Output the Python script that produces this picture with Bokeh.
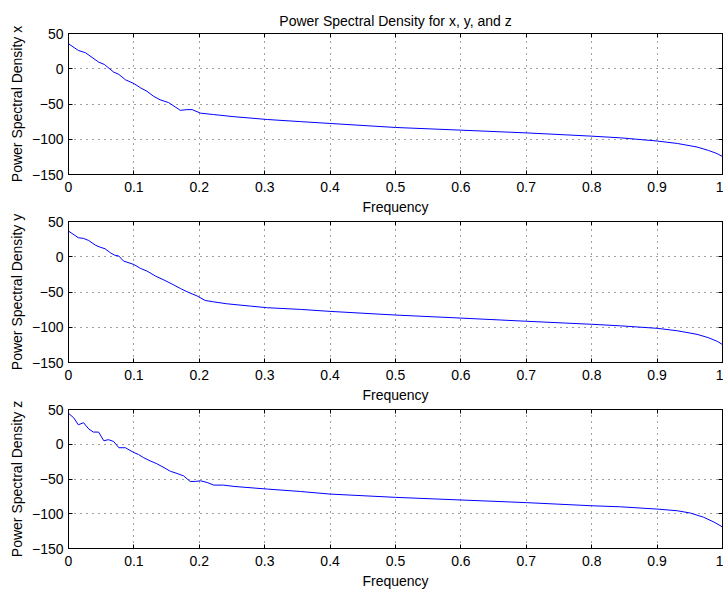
from bokeh.plotting import figure
from bokeh.models import Range1d, FixedTicker, LinearAxis
from bokeh.layouts import column
from bokeh.embed import file_html
from bokeh.resources import INLINE

# ---- data ----
freq_x = [0, 0.015, 0.026, 0.046, 0.055, 0.069, 0.077, 0.087, 0.1, 0.11, 0.12, 0.13,
          0.14, 0.153, 0.163, 0.171, 0.181, 0.189, 0.202, 0.222, 0.253, 0.304, 0.355,
          0.4, 0.5, 0.6, 0.7, 0.8, 0.844, 0.9, 0.931, 0.961, 0.979, 0.992, 1.0]
psd_x = [35.5, 26, 22.7, 9.5, 6, -4.7, -8, -15.6, -21, -27, -32, -39,
         -44, -48, -54, -59, -58, -58, -63, -65, -68, -72, -75,
         -77.6, -83.3, -87.1, -91, -95.6, -98, -102.5, -106, -111, -116, -120.5, -124.5]

freq_y = [0, 0.015, 0.023, 0.031, 0.041, 0.048, 0.056, 0.064, 0.07, 0.077, 0.084, 0.1,
          0.11, 0.12, 0.133, 0.146, 0.161, 0.171, 0.181, 0.197, 0.209, 0.222, 0.242,
          0.278, 0.304, 0.355, 0.4, 0.5, 0.6, 0.7, 0.8, 0.844, 0.9, 0.931, 0.961, 0.979,
          0.992, 1.0]
psd_y = [36.4, 27, 26, 23, 16.5, 13.7, 11.3, 5.7, 2.4, 1, -6, -11,
         -16.5, -20.3, -27.4, -33, -40, -45, -49.5, -55.8, -62, -64, -66.7,
         -70, -72.3, -74.7, -77.5, -82.7, -87, -91.5, -95.8, -98, -101.5, -105, -110, -115,
         -120, -124.5]

freq_z = [0, 0.008, 0.015, 0.023, 0.031, 0.038, 0.046, 0.054, 0.061, 0.069, 0.077, 0.087,
          0.1, 0.107, 0.115, 0.125, 0.135, 0.146, 0.156, 0.166, 0.176, 0.186, 0.194,
          0.202, 0.212, 0.222, 0.237, 0.253, 0.304, 0.355, 0.4, 0.5, 0.6, 0.7, 0.8,
          0.844, 0.9, 0.931, 0.951, 0.971, 0.987, 1.0]
psd_z = [44.5, 38, 28, 31, 22, 17.5, 17.5, 5, 6.6, 4, -5, -5,
         -12, -14.7, -19.4, -24, -28, -33.6, -39, -42, -45.5, -53.5, -53.5,
         -52.6, -55, -58.8, -58.8, -60.7, -64.5, -68, -71.7, -76.4, -80.2, -84, -88.5,
         -90, -93.3, -95.7, -99, -105, -112, -119]

x_ticks = [0, 0.1, 0.2, 0.3, 0.4, 0.5, 0.6, 0.7, 0.8, 0.9, 1]
x_labels = ["0", "0.1", "0.2", "0.3", "0.4", "0.5", "0.6", "0.7", "0.8", "0.9", "1"]
y_ticks = [50, 0, -50, -100, -150]
y_labels = ["50", "0", "\u2212" + "50", "\u2212" + "100", "\u2212" + "150"]

title_text = "Power Spectral Density for x, y, and z"
x_label = "Frequency"
y_label_names = ["Power Spectral Density x", "Power Spectral Density y", "Power Spectral Density z"]

FONT = "Liberation Sans"
FS = "14px"


def make_panel(fx, fv, ylab, height, top, bottom, title=None, overlap=0):
    p = figure(width=723, height=height, output_backend="svg", toolbar_location=None,
               x_range=Range1d(0, 1), y_range=Range1d(-150, 50),
               min_border_left=68, min_border_right=1, min_border_top=top,
               min_border_bottom=bottom, background_fill_color="white",
               border_fill_color="white", border_fill_alpha=0.0,
               outline_line_color="black", outline_line_width=1, title=title)
    if overlap:
        p.margin = (-overlap, 0, 0, 0)
    p.line(fx, fv, line_color="#0000ff", line_width=1)

    xo = dict(zip(x_ticks, x_labels))
    yo = dict(zip(y_ticks, y_labels))
    for ax in p.xaxis:
        ax.ticker = FixedTicker(ticks=x_ticks)
        ax.major_label_overrides = xo
        ax.axis_label = x_label
    for ax in p.yaxis:
        ax.ticker = FixedTicker(ticks=y_ticks)
        ax.major_label_overrides = yo
        ax.axis_label = ylab
    for ax in list(p.xaxis) + list(p.yaxis):
        ax.major_tick_in = 4
        ax.major_tick_out = 0
        ax.minor_tick_line_color = None
        ax.axis_line_color = "black"
        ax.major_tick_line_color = "black"
        ax.major_label_text_font = FONT
        ax.major_label_text_font_size = FS
        ax.major_label_text_color = "black"
        ax.axis_label_text_font = FONT
        ax.axis_label_text_font_size = FS
        ax.axis_label_text_font_style = "normal"
        ax.axis_label_text_color = "black"
        ax.axis_label_standoff = 4
    for ax in p.xaxis:
        ax.major_label_standoff = 7
    for ax in p.yaxis:
        ax.major_label_standoff = 5

    # mirrored ticks on top and right (box style)
    top_ax = LinearAxis(ticker=FixedTicker(ticks=x_ticks), major_tick_in=4, major_tick_out=0,
                        minor_tick_line_color=None, major_label_standoff=0,
                        major_label_overrides={t: "" for t in x_ticks},
                        axis_line_color="black")
    right_ax = LinearAxis(ticker=FixedTicker(ticks=y_ticks), major_tick_in=4, major_tick_out=0,
                          minor_tick_line_color=None, major_label_standoff=0,
                          major_label_overrides={t: "" for t in y_ticks},
                          axis_line_color="black")
    p.add_layout(top_ax, "above")
    p.add_layout(right_ax, "right")

    p.xgrid.ticker = FixedTicker(ticks=x_ticks)
    p.ygrid.ticker = FixedTicker(ticks=y_ticks)
    for g in (p.xgrid, p.ygrid):
        g.grid_line_color = "black"
        g.grid_line_alpha = 0.75
        g.grid_line_dash = "1 5"
        g.grid_line_width = 1

    if title is not None:
        p.title.text_font = FONT
        p.title.text_font_size = FS
        p.title.text_font_style = "normal"
        p.title.text_color = "black"
        p.title.align = "center"
    return p


OV = 25
p1 = make_panel(freq_x, psd_x, y_label_names[0], 221, 33, 47, title=title_text)
p2 = make_panel(freq_y, psd_y, y_label_names[1], OV + 141 + 47, OV, 47, overlap=OV)
p3 = make_panel(freq_z, psd_z, y_label_names[2], OV + 141 + 41, OV, 41, overlap=OV)

layout = column(p1, p2, p3, spacing=0)

with open("out.html", "w") as f:
    f.write(file_html(layout, INLINE))
